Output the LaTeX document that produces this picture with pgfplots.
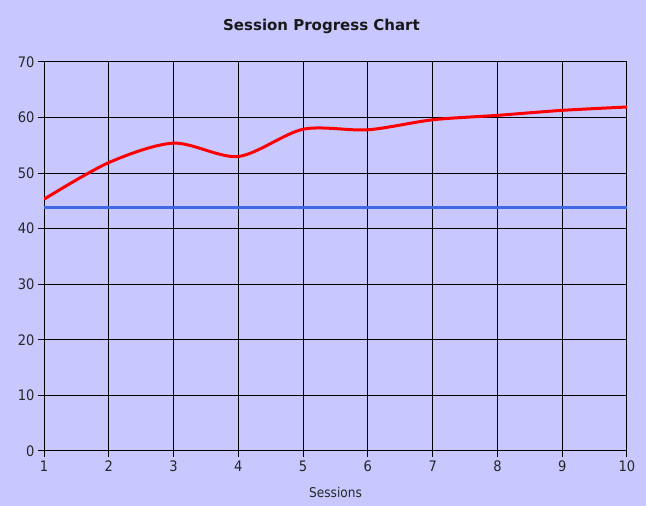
\documentclass[border=0pt]{standalone}
\usepackage{pgfplots}
\pgfplotsset{compat=1.18}
\usepackage{fontspec}
\setmainfont{DejaVu Sans}
\newfontfamily\cond{DejaVu Sans Condensed}
\definecolor{bg}{RGB}{200,200,255}
\definecolor{blueline}{RGB}{65,105,225}
\begin{document}
\begin{tikzpicture}[x=1pt,y=1pt]
\fill[bg] (0,0) rectangle (646,506);
\node[font=\bfseries\fontsize{15}{18}\selectfont, text=black!90] at (321.5,479.5) {Session Progress Chart};
\begin{axis}[
  at={(44pt,55pt)}, anchor=south west,
  scale only axis, width=583pt, height=389pt,
  xmin=1, xmax=10, ymin=0, ymax=70,
  xtick={1,...,10}, ytick={0,10,...,70},
  xtick pos=bottom, ytick pos=left,
  grid=major,
  major grid style={black, line width=1pt},
  axis line style={black, line width=1pt},
  tick style={black, line width=1pt},
  tick align=outside, major tick length=6pt,
  axis background/.style={fill=bg},
  tick label style={font=\cond\fontsize{14.5}{17}\selectfont, text=black!85},
  /pgf/number format/assume math mode=true,
  xlabel={Sessions},
  xlabel style={font=\cond\fontsize{13.5}{16}\selectfont, text=black!85, anchor=center, at={(axis description cs:0.5,0)}, yshift=-41pt},
]
\addplot[red, line width=3pt, smooth] coordinates {
(1,45.3) (2,51.9) (3,55.4) (4,53.0) (5,57.9) (6,57.8) (7,59.6) (8,60.4) (9,61.3) (10,61.9)};
\addplot[blueline, line width=3pt] coordinates {
(1,43.9) (2,43.9) (3,43.9) (4,43.9) (5,43.9) (6,43.9) (7,43.9) (8,43.9) (9,43.9) (10,43.9)};
\end{axis}
\end{tikzpicture}
\end{document}
